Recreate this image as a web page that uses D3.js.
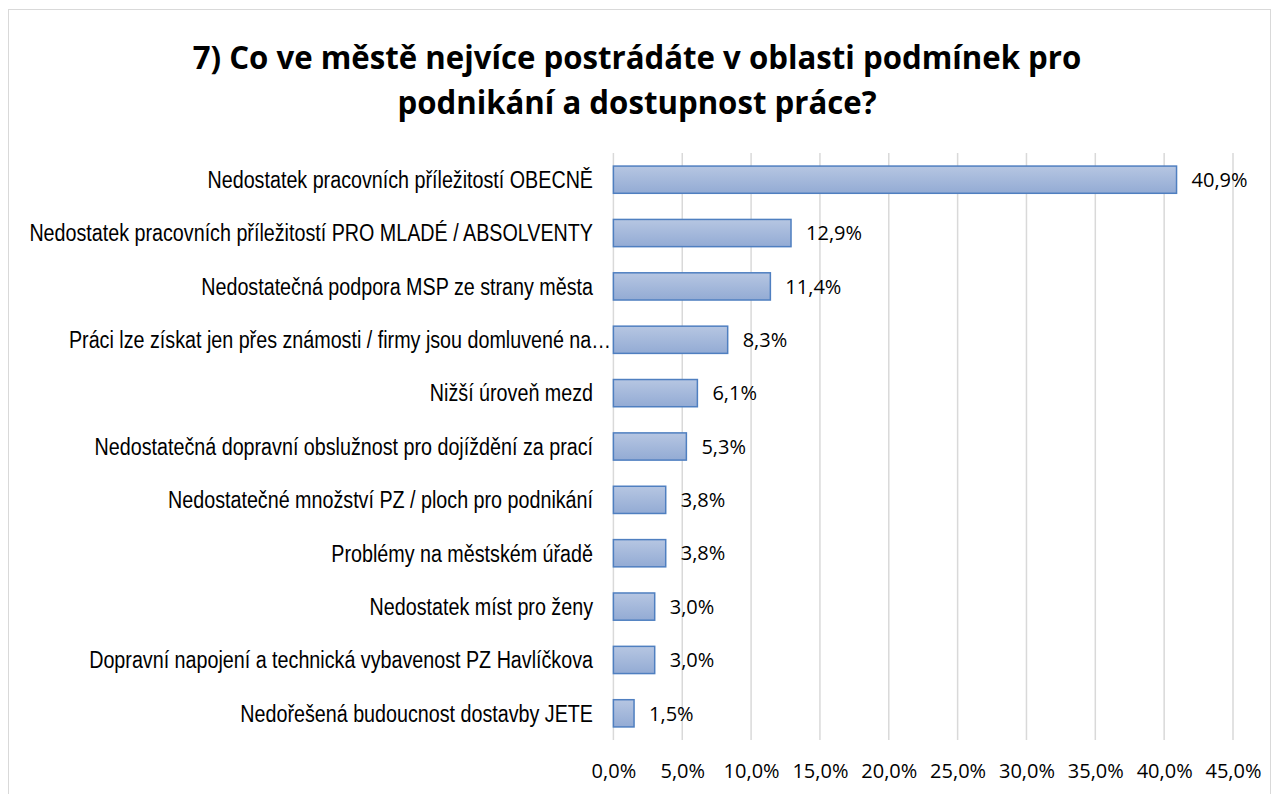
<!DOCTYPE html>
<html><head><meta charset="utf-8">
<script src="https://cdn.jsdelivr.net/npm/d3@7"></script>
<style>body{margin:0;background:#fff}</style>
</head><body>
<script>
const categories = [
  "Nedostatek pracovních příležitostí OBECNĚ",
  "Nedostatek pracovních příležitostí PRO MLADÉ / ABSOLVENTY",
  "Nedostatečná podpora MSP ze strany města",
  "Práci lze získat jen přes známosti / firmy jsou domluvené na…",
  "Nižší úroveň mezd",
  "Nedostatečná dopravní obslužnost pro dojíždění za prací",
  "Nedostatečné množství PZ / ploch pro podnikání",
  "Problémy na městském úřadě",
  "Nedostatek míst pro ženy",
  "Dopravní napojení a technická vybavenost PZ Havlíčkova",
  "Nedořešená budoucnost dostavby JETE"
];
const values = [40.9, 12.9, 11.4, 8.3, 6.1, 5.3, 3.8, 3.8, 3.0, 3.0, 1.5];
const ticks = [0, 5, 10, 15, 20, 25, 30, 35, 40, 45];
const titleLines = ["7) Co ve městě nejvíce postrádáte v oblasti podmínek pro", "podnikání a dostupnost práce?"];

const W = 1279, H = 794;
const svg = d3.select("body").append("svg").attr("width", W).attr("height", H);
const defs = svg.append("defs");
const g = defs.append("linearGradient").attr("id","bg").attr("x1",0).attr("y1",0).attr("x2",0).attr("y2",1);
g.append("stop").attr("offset","0%").attr("stop-color","#b6c6e2");
g.append("stop").attr("offset","100%").attr("stop-color","#93abd4");

svg.append("rect").attr("x",8.5).attr("y",9.5).attr("width",1262).attr("height",800)
  .attr("fill","#fff").attr("stroke","#d9d9d9").attr("stroke-width",1);

const fmt = v => d3.format(".1f")(v).replace(".", ",") + "%";
const x = d3.scaleLinear().domain([0,45]).range([613.4, 1233]);
const y = d3.scaleBand().domain(categories).range([153, 740]).paddingInner(0.49).paddingOuter(0.245);

// grid
svg.append("g").selectAll("line").data(ticks).join("line")
  .attr("x1", d => x(d)).attr("x2", d => x(d))
  .attr("y1", 153).attr("y2", 740)
  .attr("stroke", "#d9d9d9").attr("stroke-width", 1.5);

// axis tick labels
const xAxis = d3.axisBottom(x).tickValues(ticks).tickFormat(d => fmt(d)).tickSize(0).tickPadding(0);
const ax = svg.append("g").attr("transform","translate(0,764)").call(xAxis);
ax.select(".domain").remove();
ax.selectAll("text").attr("font-family","'Open Sans', sans-serif").attr("font-size",20).attr("fill","#000");

// bars
svg.append("g").selectAll("rect").data(values).join("rect")
  .attr("x", x(0)).attr("y", (d,i) => y(categories[i]))
  .attr("width", d => x(d) - x(0)).attr("height", y.bandwidth())
  .attr("fill","url(#bg)").attr("stroke","#4f7fc0").attr("stroke-width",1.5);

// value labels
svg.append("g").selectAll("text").data(values).join("text")
  .attr("x", d => x(d) + 15).attr("y", (d,i) => y(categories[i]) + y.bandwidth()/2)
  .attr("dy","0.36em").attr("font-family","'Open Sans', sans-serif").attr("font-size",20)
  .attr("fill","#000").text(d => fmt(d));

// category labels (condensed)
svg.append("g").selectAll("text").data(categories).join("text")
  .attr("transform", (d,i) => `translate(${i === 3 ? 611 : 593},${y(d) + y.bandwidth()/2}) scale(0.805,1)`)
  .attr("dy","0.34em").attr("text-anchor","end")
  .attr("font-family","'Liberation Sans', Arial, sans-serif").attr("font-size",24.5)
  .attr("fill","#000").text(d => d);

// title
svg.append("g").selectAll("text").data(titleLines).join("text")
  .attr("transform", (d,i) => `translate(637,${69 + i*45}) scale(0.99,1)`)
  .attr("text-anchor","middle").attr("font-family","'Open Sans', sans-serif")
  .attr("font-weight","bold").attr("font-size",31.5).attr("fill","#000").text(d => d);
</script>
</body></html>
